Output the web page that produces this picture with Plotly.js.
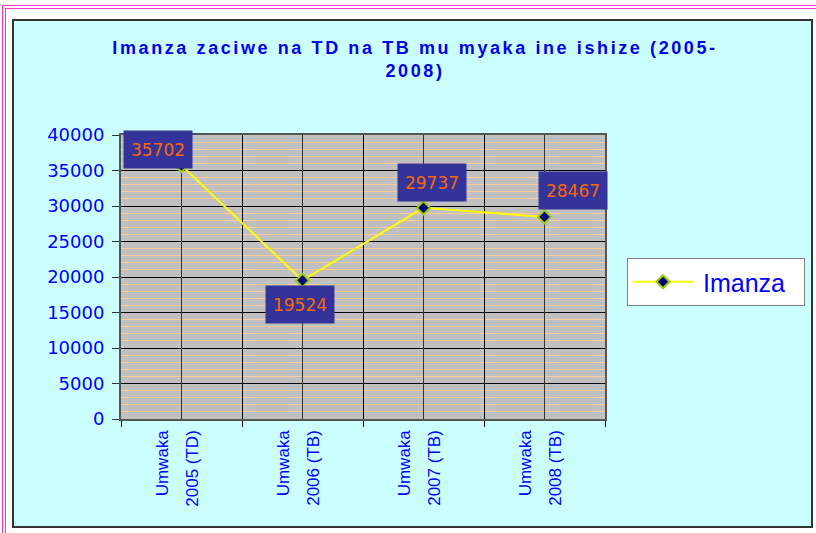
<!DOCTYPE html>
<html>
<head>
<meta charset="utf-8">
<script src="https://cdn.plot.ly/plotly-3.0.1.min.js"></script>
<style>
  html, body { margin:0; padding:0; background:#ffffff; width:816px; height:533px; overflow:hidden; }
  #outer { position:absolute; left:2px; top:5px; width:830px; height:540px; border:4px double #FF33CC; box-sizing:border-box; }
  #inner { position:absolute; left:12px; top:19px; width:801px; height:509px; background:#CCFFFF; border:2px solid #333333; box-sizing:border-box; }
  #chart { position:absolute; left:0; top:0; width:816px; height:533px; }
  #chart .gtitle { letter-spacing: 2.6px; }
</style>
</head>
<body>
<div id="outer"></div>
<div id="inner"></div>
<div id="chart"></div>
<script>
const categories = ["2005 (TD)", "2006 (TB)", "2007 (TB)", "2008 (TB)"];
const tickLabels = ["Umwaka<br>2005 (TD)", "Umwaka<br>2006 (TB)", "Umwaka<br>2007 (TB)", "Umwaka<br>2008 (TB)"];
const imanza = [35702, 19524, 29737, 28467];
const seriesName = "Imanza";
const titleText = "Imanza zaciwe na TD na TB mu myaka ine ishize (2005-<br>2008)";

const labelShift = [[-24, 16], [-3, -24], [8, 25], [28, 26]];

const wrap = s => s.split("<br>").map(p => "<span style='font-size:17px'>" + p + "</span>").join("<br>");

// helper trace on an overlaid category axis: draws the vertical grid at category centres
const gridTrace = {
  x: categories, y: imanza, xaxis: "x2", yaxis: "y",
  type: "scatter", mode: "lines", opacity: 0, showlegend: false, hoverinfo: "skip"
};

const trace = {
  x: categories,
  y: imanza,
  type: "scatter",
  mode: "lines+markers",
  name: "\u2009" + seriesName + "\u00a0\u00a0",
  line: { color: "#FFFF00", width: 2 },
  marker: { symbol: "diamond", size: 10, color: "#000080", line: { color: "#99CC00", width: 2 } },
  cliponaxis: false
};

const annotations = categories.map((c, i) => ({
  x: c, y: imanza[i], xref: "x", yref: "y",
  text: String(imanza[i]),
  showarrow: false,
  xshift: labelShift[i][0], yshift: labelShift[i][1],
  bgcolor: "#333399",
  font: { family: "DejaVu Sans", size: 17, color: "#FF6600" },
  width: 68, height: 37, borderpad: 0
}));

const layout = {
  width: 816, height: 533,
  margin: { l: 121, r: 211, t: 135, b: 114, autoexpand: false },
  paper_bgcolor: "rgba(0,0,0,0)",
  plot_bgcolor: "#C0C0C0",
  title: {
    text: titleText,
    xref: "container", yref: "container",
    x: 415 / 816, xanchor: "center",
    y: 1 - 54 / 533, yanchor: "top",
    font: { family: "Liberation Sans", size: 18, color: "#0000EE", weight: "bold" }
  },
  xaxis: {
    type: "category",
    tickvals: categories,
    ticktext: tickLabels.map(wrap),
    tickangle: -90,
    tickson: "boundaries",
    ticks: "outside", ticklen: 6, tickcolor: "#000000",
    ticklabelshift: -6,
    showgrid: true, gridcolor: "#000000", gridwidth: 1,
    showline: true, linecolor: "#555555", linewidth: 2, mirror: true,
    tickfont: { family: "Liberation Sans", size: 23, color: "#0000FF" },
    range: [-0.5, 3.5],
    automargin: false
  },
  xaxis2: {
    type: "category",
    overlaying: "x",
    side: "bottom",
    range: [-0.5, 3.5],
    showticklabels: false, ticks: "",
    showgrid: true, gridcolor: "#333333", gridwidth: 1,
    showline: false, zeroline: false
  },
  yaxis: {
    range: [0, 40000],
    dtick: 5000,
    tickformat: "d",
    ticks: "outside", ticklen: 7, tickcolor: "#333333",
    ticklabelstandoff: 4,
    showgrid: true, gridcolor: "#000000", gridwidth: 1,
    minor: { dtick: 1000, showgrid: true, gridcolor: "#FFCC99", gridwidth: 1 },
    showline: true, linecolor: "#555555", linewidth: 2, mirror: true,
    zeroline: false,
    tickfont: { family: "DejaVu Sans", size: 18, color: "#0000FF" },
    automargin: false
  },
  showlegend: true,
  legend: {
    x: (627 - 121) / 484, xanchor: "left",
    y: (419 - 258) / 284, yanchor: "top",
    bgcolor: "#FFFFFF", bordercolor: "#808080", borderwidth: 1,
    font: { family: "Liberation Sans", size: 25, color: "#0000FF" },
    itemwidth: 60
  },
  annotations: annotations
};

Plotly.newPlot("chart", [gridTrace, trace], layout, { staticPlot: true, displayModeBar: false });
</script>
</body>
</html>
